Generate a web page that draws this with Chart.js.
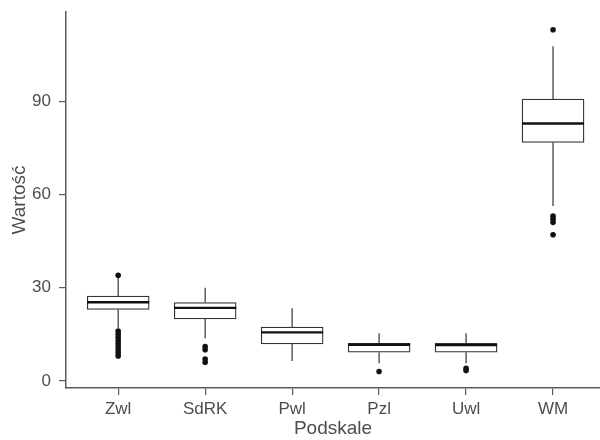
<!DOCTYPE html>
<html>
<head>
<meta charset="utf-8">
<script src="https://cdn.jsdelivr.net/npm/chart.js@4.4.1/dist/chart.umd.min.js"></script>
<style>
  html, body { margin: 0; padding: 0; background: #ffffff; }
  #wrap { width: 600px; height: 440px; position: relative; }
</style>
</head>
<body>
<div id="wrap"><canvas id="c"></canvas></div>
<script>
// ---- data ----
const categories   = ["Zwl", "SdRK", "Pwl", "Pzl", "Uwl", "WM"];
const whiskerLow   = [17.0, 13.7, 6.4, 5.7, 5.7, 56.3];
const q1           = [23.0, 19.9, 11.9, 9.2, 9.2, 76.7];
const median       = [25.3, 23.5, 15.6, 11.6, 11.5, 82.8];
const q3           = [27.3, 25.2, 17.3, 12.1, 12.1, 90.7];
const whiskerHigh  = [33.4, 30.0, 23.4, 15.3, 15.3, 107.7];
const outliers     = [
  [34, 16, 15, 14, 13, 12, 11, 10, 9, 8],
  [11, 10, 7, 6],
  [],
  [3],
  [4, 3.3],
  [113, 53, 52, 51, 47]
];
const yTickValues  = [0, 30, 60, 90];
const xTitle = "Podskale";
const yTitle = "Wartość";

// ---- build datasets ----
const boxData = categories.map((c, i) => ({ x: i + 1, y: [q1[i], q3[i]] }));
const medData = categories.map((c, i) => ({ x: i + 1, y: median[i] }));
const whiskData = [];
categories.forEach((c, i) => {
  whiskData.push({ x: i + 1, y: q3[i] }, { x: i + 1, y: whiskerHigh[i] }, { x: i + 1, y: null });
  whiskData.push({ x: i + 1, y: q1[i] }, { x: i + 1, y: whiskerLow[i] }, { x: i + 1, y: null });
});
const outData = [];
outliers.forEach((arr, i) => arr.forEach(v => outData.push({ x: i + 1, y: v })));

const axisColor = '#5a5a5a';
const textColor = '#4d4d4d';
const fontFamily = "'Liberation Sans', Arial, Helvetica, sans-serif";

function zeroPad(s) { s.paddingTop = 0; s.paddingBottom = 0; s.paddingLeft = 0; s.paddingRight = 0; }

new Chart(document.getElementById('c'), {
  type: 'bar',
  data: {
    datasets: [
      {
        type: 'line', data: whiskData, borderColor: '#333333', borderWidth: 1.2,
        pointRadius: 0, spanGaps: false, fill: false, order: 3
      },
      {
        type: 'bar', data: boxData, backgroundColor: '#ffffff', borderColor: '#333333',
        borderWidth: 1.3, borderSkipped: false, barThickness: 62, order: 2
      },
      {
        type: 'scatter', data: medData, pointStyle: 'line', pointRadius: 31,
        borderColor: '#111111', borderWidth: 2.4, order: 1
      },
      {
        type: 'scatter', data: outData, pointStyle: 'circle', pointRadius: 2.8,
        backgroundColor: '#111111', borderColor: '#111111', borderWidth: 0, order: 0
      }
    ]
  },
  options: {
    responsive: true,
    maintainAspectRatio: false,
    animation: false,
    layout: { autoPadding: false, padding: { top: 12, right: 0, left: 0, bottom: 0 } },
    plugins: { legend: { display: false }, tooltip: { enabled: false } },
    scales: {
      x: {
        type: 'linear',
        min: 0.4,
        max: 6.54,
        offset: false,
        afterBuildTicks: (s) => { s.ticks = categories.map((c, i) => ({ value: i + 1 })); },
        afterFit: (s) => { s.height = 52; zeroPad(s); },
        ticks: {
          autoSkip: false, maxRotation: 0, padding: 4, color: textColor,
          font: { family: fontFamily, size: 17 },
          callback: (v) => categories[Math.round(v) - 1] || ''
        },
        grid: { display: true, drawOnChartArea: false, drawTicks: true, tickLength: 7, color: axisColor, lineWidth: 1.2, offset: false },
        border: { display: true, color: axisColor, width: 1.5 },
        title: { display: true, text: xTitle, color: textColor, font: { family: fontFamily, size: 19 }, padding: { top: 0, bottom: 0 } }
      },
      y: {
        type: 'linear',
        min: -2.3,
        max: 118.7,
        afterBuildTicks: (s) => { s.ticks = yTickValues.map(v => ({ value: v })); },
        afterFit: (s) => { s.width = 66; zeroPad(s); },
        ticks: { padding: 8, color: textColor, font: { family: fontFamily, size: 17 } },
        grid: { display: true, drawOnChartArea: false, drawTicks: true, tickLength: 7, color: axisColor, lineWidth: 1.2 },
        border: { display: true, color: axisColor, width: 1.5 },
        title: { display: true, text: yTitle, color: textColor, font: { family: fontFamily, size: 19 }, padding: { top: 8, bottom: 0 } }
      }
    }
  }
});
</script>
</body>
</html>
